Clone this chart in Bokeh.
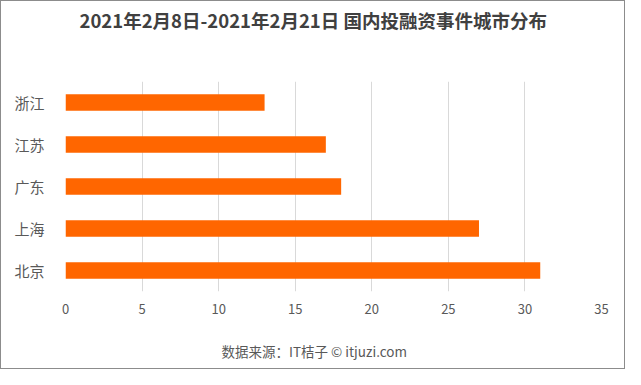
from bokeh.plotting import figure
from bokeh.models import FactorRange, Range1d, FixedTicker, Title
from bokeh.embed import file_html
from bokeh.resources import INLINE

cities = ["北京", "上海", "广东", "江苏", "浙江"]
counts = [31, 27, 18, 17, 13]
x_ticks = [0, 5, 10, 15, 20, 25, 30, 35]

title_text = "2021年2月8日-2021年2月21日 国内投融资事件城市分布"
source_text = "数据来源：IT桔子  ©  itjuzi.com"

FONT = "Noto Sans CJK SC"

p = figure(width=625, height=369, output_backend="svg", toolbar_location=None,
           y_range=FactorRange(*cities), x_range=Range1d(0, 35),
           min_border_left=64, min_border_right=25, min_border_top=80, min_border_bottom=79)
p.title = None

p.hbar(y=cities, right=counts, height=0.39, color="#FF6600", line_color=None)

p.outline_line_color = None
p.background_fill_color = "white"
p.border_fill_color = "white"
p.styles = {"border": "1px solid #8c8c8c", "box-sizing": "border-box"}

top_spacer = Title(text=" ", text_font_size="20px", standoff=25)
p.add_layout(top_spacer, "above")
main_title = Title(text=title_text, align="left", offset=14, standoff=0,
                   text_font=FONT, text_font_size="18.5px", text_font_style="bold",
                   text_color="#404040")
p.add_layout(main_title, "above")

bottom_spacer = Title(text=" ", text_font_size="16px", standoff=3)
p.add_layout(bottom_spacer, "below")
foot = Title(text=source_text, align="left", text_font=FONT, text_font_size="13.5px",
             text_font_style="normal", text_color="#595959", offset=156, standoff=0)
p.add_layout(foot, "below")

p.xaxis.ticker = FixedTicker(ticks=x_ticks)
p.xaxis.axis_line_color = None
p.xaxis.major_tick_line_color = None
p.xaxis.minor_tick_line_color = None
p.xaxis.major_label_text_font = FONT
p.xaxis.major_label_text_font_size = "13px"
p.xaxis.major_label_text_color = "#595959"
p.xaxis.major_label_standoff = 6

p.yaxis.axis_line_color = None
p.yaxis.major_tick_line_color = None
p.yaxis.major_label_text_font = FONT
p.yaxis.major_label_text_font_size = "15px"
p.yaxis.major_label_text_color = "#595959"
p.yaxis.major_label_standoff = 15

p.xgrid.grid_line_color = "#d9d9d9"
p.ygrid.grid_line_color = None

open("out.html", "w").write(file_html(p, INLINE))
